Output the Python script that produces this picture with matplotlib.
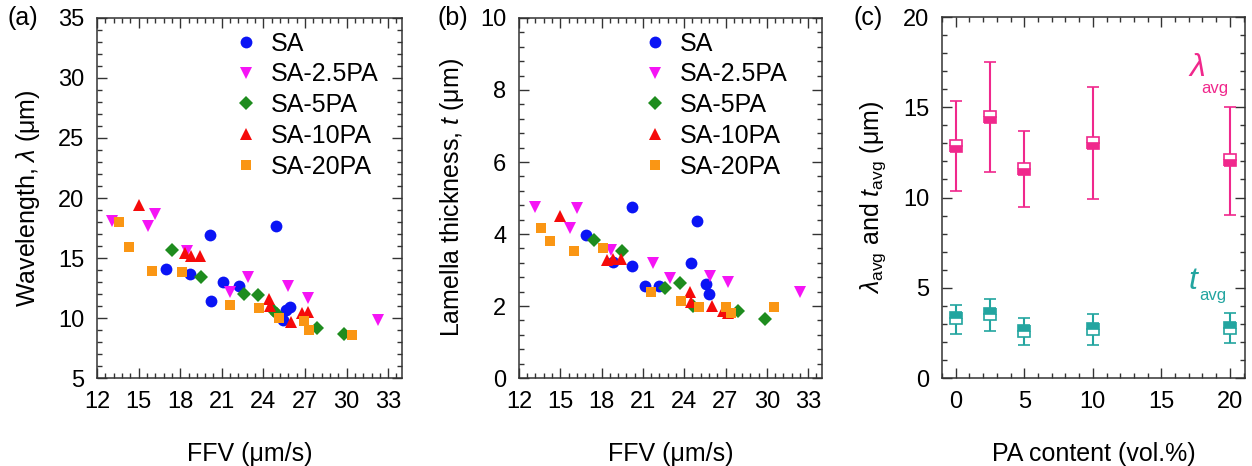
import numpy as np
import matplotlib
matplotlib.use("Agg")
import matplotlib.pyplot as plt
from matplotlib.ticker import MultipleLocator, AutoMinorLocator

plt.rcParams["font.family"] = ["Liberation Sans", "DejaVu Sans"]
plt.rcParams["mathtext.fontset"] = "custom"
plt.rcParams["mathtext.rm"] = "Liberation Sans"
plt.rcParams["mathtext.it"] = "Liberation Sans:italic"
plt.rcParams["font.size"] = 17

# ---- panel (a): wavelength vs FFV
sa_ffv = [16.95, 18.7, 20.15, 20.2, 21.1, 22.25, 24.9, 25.6, 25.9, 25.4]
sa_lam = [14.1, 13.7, 16.9, 11.4, 13.0, 12.7, 17.7, 10.7, 10.95, 9.8]
pa25_ffv = [13.06, 15.7, 16.2, 18.5, 22.9, 21.6, 25.8, 27.2, 32.3]
pa25_lam = [18.1, 17.7, 18.7, 15.6, 13.4, 12.2, 12.7, 11.7, 9.8]
pa5_ffv = [17.4, 19.5, 22.6, 23.6, 24.7, 25.0, 27.85, 29.8]
pa5_lam = [15.7, 13.45, 12.0, 11.9, 10.7, 10.3, 9.2, 8.7]
pa10_ffv = [15.0, 18.35, 18.8, 19.4, 24.4, 24.5, 26.0, 26.8, 27.2]
pa10_lam = [19.4, 15.4, 15.2, 15.2, 11.6, 11.0, 9.7, 10.4, 10.5]
pa20_ffv = [13.6, 14.3, 15.95, 18.1, 21.6, 23.7, 25.1, 26.9, 27.3, 30.4]
pa20_lam = [17.97, 15.9, 13.9, 13.8, 11.1, 10.8, 10.0, 9.75, 9.0, 8.6]

# ---- panel (b): lamella thickness vs FFV
sa_ffv_b = [16.9, 18.8, 20.2, 20.2, 21.15, 22.2, 24.5, 24.9, 25.6, 25.8]
sa_t = [3.96, 3.23, 4.76, 3.12, 2.56, 2.56, 3.19, 4.35, 2.61, 2.33]
pa25_ffv_b = [13.16, 16.2, 15.7, 18.7, 21.7, 23.0, 25.9, 27.2, 32.4]
pa25_t = [4.74, 4.73, 4.16, 3.56, 3.19, 2.78, 2.84, 2.67, 2.40]
pa5_ffv_b = [17.45, 19.5, 22.6, 23.7, 24.65, 27.9, 29.9]
pa5_t = [3.84, 3.54, 2.49, 2.63, 2.0, 1.87, 1.65]
pa10_ffv_b = [15.0, 18.4, 18.85, 19.4, 24.4, 24.5, 26.0, 26.8, 27.2]
pa10_t = [4.49, 3.29, 3.31, 3.31, 2.38, 2.1, 2.0, 1.85, 1.8]
pa20_ffv_b = [13.6, 14.25, 16.0, 18.1, 21.6, 23.8, 25.1, 27.0, 27.4, 30.5]
pa20_t = [4.16, 3.80, 3.52, 3.61, 2.40, 2.14, 1.98, 1.98, 1.80, 1.96]

labels = ["SA", "SA-2.5PA", "SA-5PA", "SA-10PA", "SA-20PA"]
markers = ["o", "v", "D", "^", "s"]
colors = ["#0a14f5", "#f514f5", "#1e8c1e", "#f50a0a", "#fa9614"]
msizes = [8.5, 9, 7, 9, 7.5]

# ---- panel (c): averages with error bars
pa_content = [0, 2.5, 5, 10, 20]
lam_avg = [12.87, 14.48, 11.57, 13.0, 12.08]
lam_hi = [15.35, 17.48, 13.71, 16.1, 15.04]
lam_lo = [10.38, 11.43, 9.46, 9.92, 9.03]
t_avg = [3.30, 3.52, 2.61, 2.74, 2.77]
t_hi = [4.03, 4.35, 3.30, 3.57, 3.61]
t_lo = [2.46, 2.61, 1.82, 1.85, 1.96]

lam_color = "#f0288c"
t_color = "#23a5a0"


def style_axes(ax):
    ax.tick_params(which="both", direction="in", top=True, right=True,
                   pad=9, labelsize=17, width=1, color="#333333")
    ax.tick_params(which="major", length=7)
    ax.tick_params(which="minor", length=3.5)
    ax.xaxis.set_minor_locator(AutoMinorLocator(5))
    ax.yaxis.set_minor_locator(AutoMinorLocator(5))
    for s in ax.spines.values():
        s.set_linewidth(1.1)
        s.set_color("#333333")


fig = plt.figure(figsize=(12.52, 4.66), dpi=100)
ax_a = fig.add_axes([0.0775, 0.1888, 0.2436, 0.7726])
ax_b = fig.add_axes([0.4145, 0.1888, 0.2420, 0.7726])
ax_c = fig.add_axes([0.7524, 0.1888, 0.2420, 0.7747])

sets_a = [(sa_ffv, sa_lam), (pa25_ffv, pa25_lam), (pa5_ffv, pa5_lam),
          (pa10_ffv, pa10_lam), (pa20_ffv, pa20_lam)]
sets_b = [(sa_ffv_b, sa_t), (pa25_ffv_b, pa25_t), (pa5_ffv_b, pa5_t),
          (pa10_ffv_b, pa10_t), (pa20_ffv_b, pa20_t)]

for ax, sets in [(ax_a, sets_a), (ax_b, sets_b)]:
    for (xs, ys), lab, m, c, ms in zip(sets, labels, markers, colors, msizes):
        ax.plot(xs, ys, linestyle="none", marker=m, color=c, markersize=ms,
                markeredgewidth=0, label=lab)
    ax.set_xlim(12, 34)
    ax.xaxis.set_major_locator(MultipleLocator(3))
    ax.set_xlabel("FFV (μm/s)", fontsize=18, labelpad=21)
    style_axes(ax)

ax_a.set_ylim(5, 35)
ax_a.yaxis.set_major_locator(MultipleLocator(5))
ax_a.set_ylabel(r"Wavelength, $\lambda$ (μm)", fontsize=18, labelpad=12)
ax_a.legend(loc="upper left", bbox_to_anchor=(0.41, 0.99), frameon=False,
            handletextpad=0.45, labelspacing=0.27, borderaxespad=0,
            handlelength=1.1, fontsize=18)

ax_b.set_ylim(0, 10)
ax_b.yaxis.set_major_locator(MultipleLocator(2))
ax_b.set_ylabel(r"Lamella thickness, $t$ (μm)", fontsize=18, labelpad=10)
ax_b.legend(loc="upper left", bbox_to_anchor=(0.37, 0.99), frameon=False,
            handletextpad=0.45, labelspacing=0.27, borderaxespad=0,
            handlelength=1.1, fontsize=18)

# panel (c)
lam_err = [np.subtract(lam_avg, lam_lo), np.subtract(lam_hi, lam_avg)]
t_err = [np.subtract(t_avg, t_lo), np.subtract(t_hi, t_avg)]
ax_c.errorbar(pa_content, lam_avg, yerr=lam_err, fmt="s", color=lam_color,
              ecolor=lam_color, elinewidth=1.5, capsize=4, capthick=1.5,
              markersize=8, fillstyle="bottom", markerfacecoloralt="white",
              markeredgecolor=lam_color, markeredgewidth=1.2)
ax_c.errorbar(pa_content, t_avg, yerr=t_err, fmt="s", color=t_color,
              ecolor=t_color, elinewidth=1.5, capsize=4, capthick=1.5,
              markersize=8, fillstyle="top", markerfacecoloralt="white",
              markeredgecolor=t_color, markeredgewidth=1.2)
ax_c.set_xlim(-1, 21.1)
ax_c.set_ylim(0, 20)
ax_c.xaxis.set_major_locator(MultipleLocator(5))
ax_c.yaxis.set_major_locator(MultipleLocator(5))
ax_c.set_xlabel("PA content (vol.%)", fontsize=18, labelpad=21)
ax_c.set_ylabel(r"$\lambda_{\rm avg}$ and $t_{\rm avg}$ (μm)", fontsize=18,
                labelpad=11)
style_axes(ax_c)

ax_c.text(17.6, 17.2, r"$\lambda$", color=lam_color, fontsize=23,
          ha="center", va="center")
ax_c.text(18.9, 16.05, "avg", color=lam_color, fontsize=12,
          ha="center", va="center")
ax_c.text(17.4, 5.35, r"$t$", color=t_color, fontsize=23,
          ha="center", va="center")
ax_c.text(18.75, 4.55, "avg", color=t_color, fontsize=12,
          ha="center", va="center")

fig.text(0.0185, 0.961, "(a)", fontsize=18, ha="center", va="center")
fig.text(0.362, 0.961, "(b)", fontsize=18, ha="center", va="center")
fig.text(0.693, 0.961, "(c)", fontsize=18, ha="center", va="center")

fig.savefig("out.png", dpi=100)
